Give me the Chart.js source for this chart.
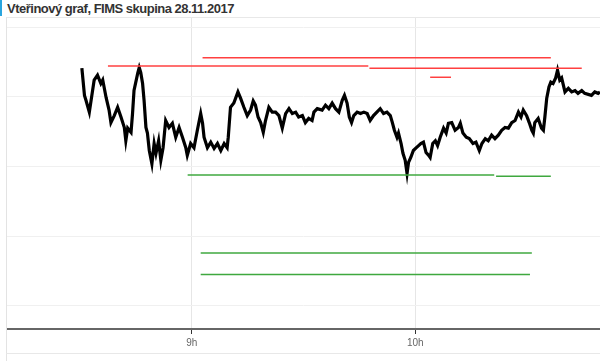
<!DOCTYPE html>
<html lang="cs">
<head>
<meta charset="utf-8">
<title>Vteřinový graf, FIMS skupina 28.11.2017</title>
<script src="https://cdn.jsdelivr.net/npm/chart.js@4.4.0/dist/chart.umd.min.js"></script>
<style>
  html, body { margin: 0; padding: 0; background: #fff; }
  body { width: 600px; height: 361px; position: relative; overflow: hidden; font-family: "Liberation Sans", Arial, sans-serif; }
  .accent { position: absolute; left: 0; top: 0; width: 2px; height: 16px; background: #2aa5de; }
  h2 { position: absolute; left: 7px; top: 1px; margin: 0; font-size: 13px; line-height: 15px; font-weight: bold; letter-spacing: -0.5px; color: #333; }
  .panel { position: absolute; left: 6px; top: 17px; width: 594px; height: 336px; border-top: 1px solid #e8e8e8; border-left: 1px solid #e3e3e3; box-sizing: border-box; }
  .panel-next { position: absolute; left: 6px; top: 353px; width: 594px; height: 20px; border-top: 1px solid #e8e8e8; border-left: 1px solid #e3e3e3; box-sizing: border-box; }
  .chart-box { position: absolute; left: 0; top: 0; right: 0; bottom: 0; }
</style>
</head>
<body>
<div class="accent"></div>
<h2>Vteřinový graf, FIMS skupina 28.11.2017</h2>
<div class="panel"><div class="chart-box"><canvas id="secondChart"></canvas></div></div>
<div class="panel-next"></div>
<script>
// time in minutes since midnight, price in chart units
const times = [
  510.5, 511.2, 511.6, 512.5, 513.8, 514.7, 515.6, 516.1, 517.0, 517.8,
  518.3, 519.2, 520.1, 521.0, 521.9, 522.3, 522.8, 523.7, 524.1, 524.5,
  525.5, 525.9, 526.3, 526.8, 527.2, 527.7, 528.1, 528.6, 529.3, 529.9,
  530.4, 531.1, 531.7, 532.3, 533.0, 533.9, 534.8, 535.7, 536.6, 537.5,
  538.4, 538.8, 539.7, 540.6, 541.5, 542.4, 542.9, 543.3, 544.2, 545.1,
  546.0, 546.9, 547.8, 548.7, 549.5, 549.8, 550.4, 551.3, 552.4, 553.1,
  554.0, 554.9, 555.8, 556.5, 557.1, 557.8, 558.5, 559.2, 559.8, 560.7,
  561.6, 562.5, 563.4, 564.3, 565.2, 566.1, 567.0, 567.9, 568.7, 569.7,
  570.5, 571.4, 572.3, 572.8, 573.7, 575.0, 575.9, 576.8, 577.7, 578.6,
  579.5, 580.4, 581.0, 581.7, 582.3, 582.9, 583.5, 584.4, 585.3, 586.2,
  587.1, 587.9, 588.8, 589.7, 590.6, 591.5, 592.4, 593.3, 593.8, 594.4,
  595.1, 595.5, 596.2, 596.7, 597.3, 597.8, 598.2, 598.8, 599.5, 600.3,
  600.9, 601.5, 602.2, 602.9, 603.6, 604.0, 604.7, 605.4, 606.0, 606.7,
  607.6, 608.3, 608.9, 609.8, 610.7, 611.6, 612.1, 612.8, 613.7, 614.5,
  615.5, 616.3, 617.2, 617.9, 618.8, 619.6, 620.5, 621.4, 622.3, 623.2,
  624.1, 625.0, 625.9, 626.8, 627.7, 628.4, 629.0, 629.9, 630.6, 631.3,
  631.7, 632.1, 633.0, 633.9, 634.4, 634.8, 635.3, 635.9, 636.4, 637.0,
  637.7, 638.2, 638.8, 639.3, 640.2, 641.1, 642.0, 642.9, 643.7, 644.7,
  645.5, 647.3, 648.2, 649.1, 649.6
];
const prices = [
  341, 302, 295, 278, 324, 331, 319, 324, 299, 281,
  263, 273, 285, 271, 256, 237, 255, 249, 276, 309,
  334, 342, 335, 319, 295, 256, 248, 223, 204, 233,
  219, 237, 209, 227, 266, 256, 262, 242, 256, 242,
  227, 216, 233, 227, 252, 276, 262, 242, 227, 235,
  226, 233, 223, 233, 227, 242, 285, 291, 307, 298,
  285, 273, 281, 294, 288, 271, 263, 249, 266, 285,
  278, 278, 273, 255, 276, 283, 276, 278, 271, 273,
  263, 269, 266, 278, 283, 281, 288, 283, 291, 283,
  278, 295, 302, 291, 271, 263, 273, 278, 276, 278,
  276, 266, 273, 278, 283, 276, 278, 273, 264, 252,
  242, 248, 233, 219, 209, 190, 206, 213, 223, 227,
  230, 233, 235, 220, 216, 213, 233, 237, 230, 242,
  255, 248, 262, 263, 252, 256, 262, 248, 242, 240,
  233, 235, 223, 233, 240, 237, 245, 240, 245, 252,
  256, 255, 263, 266, 278, 271, 281, 273, 263, 252,
  248, 263, 269, 255, 252, 271, 298, 314, 321, 319,
  327, 338, 324, 327, 307, 312, 307, 309, 305, 309,
  305, 302, 307, 305, 307
];

// horizontal levels: [from, to, price]
const redLevels = [
  [542.9, 636.4, 356],
  [517.5, 587.4, 344],
  [587.7, 644.7, 341],
  [604.0, 609.6, 328]
];
const greenLevels = [
  [538.9, 621.2, 188],
  [621.7, 636.4, 186],
  [542.4, 631.3, 76],
  [542.4, 630.8, 45]
];

const tickValues = [540, 600];
const tickLabels = ['9h', '10h'];
const gridValues = [0, 100, 200, 300, 400];

(function () {
  const el = document.getElementById('secondChart');

  function levelDataset(level, color) {
    return {
      data: [{ x: level[0], y: level[2] }, { x: level[1], y: level[2] }],
      borderColor: color,
      borderWidth: 1.5,
      pointRadius: 0,
      tension: 0
    };
  }

  const datasets = [];
  redLevels.forEach((level) => datasets.push(levelDataset(level, '#ff4040')));
  greenLevels.forEach((level) => datasets.push(levelDataset(level, '#3fa83f')));
  datasets.push({
    data: times.map((t, i) => ({ x: t, y: prices[i] })),
    borderColor: '#000',
    borderWidth: 3.2,
    borderJoinStyle: 'miter',
    pointRadius: 0,
    tension: 0
  });

  new Chart(el, {
    type: 'line',
    data: { datasets: datasets },
    options: {
      responsive: true,
      maintainAspectRatio: false,
      animation: false,
      layout: { padding: { top: 0, bottom: 1, left: 0, right: 0 } },
      plugins: { legend: { display: false }, tooltip: { enabled: false } },
      scales: {
        x: {
          type: 'linear',
          min: 490.4,
          max: 649.6,
          afterBuildTicks: (axis) => { axis.ticks = tickValues.map((v) => ({ value: v })); },
          ticks: {
            autoSkip: false,
            maxRotation: 0,
            color: '#666',
            padding: 3,
            font: { family: '"Liberation Sans", Arial, sans-serif', size: 10 },
            callback: (value) => tickLabels[tickValues.indexOf(value)]
          },
          grid: { color: '#e6e6e6', tickColor: '#333', tickLength: 5 },
          border: { color: '#666', width: 2 }
        },
        y: {
          min: -33,
          max: 413,
          afterBuildTicks: (axis) => { axis.ticks = gridValues.map((v) => ({ value: v })); },
          ticks: { display: false },
          grid: { color: '#f0f0f0', drawTicks: false },
          border: { display: false }
        }
      }
    }
  });
})();
</script>
</body>
</html>
